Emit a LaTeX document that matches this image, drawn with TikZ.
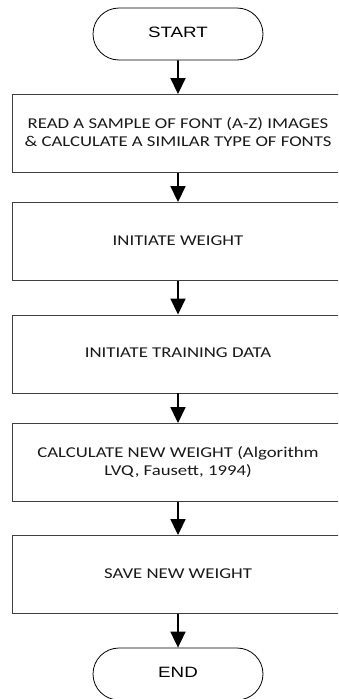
\documentclass[tikz,border=0pt]{standalone}
\usepackage{fontspec}
\setmainfont{Carlito}
\newfontfamily\arialfont{Liberation Sans}
\usetikzlibrary{arrows.meta,shapes.misc}
\definecolor{edge}{rgb}{0.25,0.25,0.25}
\newcommand{\wide}[1]{\scalebox{1.25}[1]{\begin{tabular}{@{}c@{}}#1\end{tabular}}}

\tikzset{
  terminal/.style={rounded rectangle, draw=black, line width=0.8pt, minimum width=170pt,
    minimum height=52pt, inner sep=0pt, font=\arialfont\fontsize{15}{18}\selectfont},
  process/.style={rectangle, draw=edge, line width=0.9pt, minimum width=332pt,
    minimum height=78pt, inner sep=0pt, text=black!90, font=\fontsize{15}{18}\selectfont},
  flow/.style={line width=1.8pt, -{Triangle[width=15pt,length=16pt]}}
}

\begin{document}
\begin{tikzpicture}[x=1pt,y=-1pt]
        \useasboundingbox (0,0) rectangle (338,699);
        \clip (0,0) rectangle (338,699);
        \node[terminal] (start) at (178,34) {\wide{START}};
        \node[process] (read) at (178,133.5) {\wide{READ A SAMPLE OF FONT (A-Z) IMAGES\\ \& CALCULATE A SIMILAR TYPE OF FONTS}};
        \node[process] (initw) at (178,241.5) {\wide{INITIATE WEIGHT}};
        \node[process] (initd) at (178,354) {\wide{INITIATE TRAINING DATA}};
        \node[process] (calc) at (178,462.5) {\wide{CALCULATE NEW WEIGHT (Algorithm\\ LVQ, Fausett, 1994)}};
        \node[process] (save) at (178,574.5) {\wide{SAVE NEW WEIGHT}};
        \node[terminal] (end) at (178,674) {\wide{END}};
        \draw[flow] (start) -- (read);
        \draw[flow] (read) -- (initw);
        \draw[flow] (initw) -- (initd);
        \draw[flow] (initd) -- (calc);
        \draw[flow] (calc) -- (save);
        \draw[flow] (save) -- (end);
    \end{tikzpicture}
\end{document}
